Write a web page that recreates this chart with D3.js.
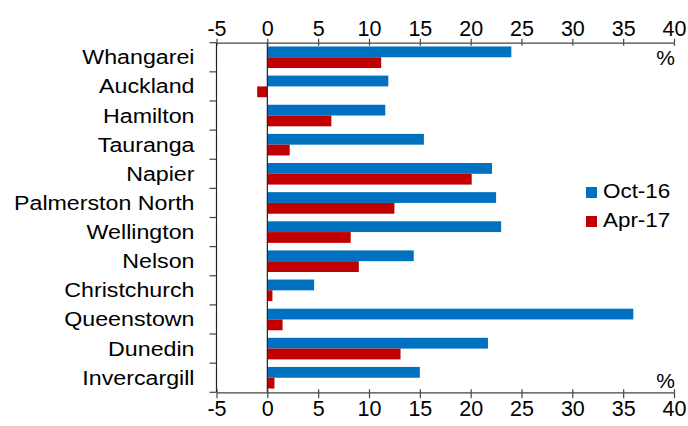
<!DOCTYPE html>
<html>
<head>
<meta charset="utf-8">
<script src="https://cdn.jsdelivr.net/npm/d3@7"></script>
<style>
  html, body { margin: 0; padding: 0; background: #fff; }
  svg { display: block; font-family: "Liberation Sans", Arial, sans-serif; }
</style>
</head>
<body>
<svg id="chart" width="688" height="426"></svg>
<script>
// House price growth by city, annual % change
const cities = ["Whangarei", "Auckland", "Hamilton", "Tauranga", "Napier", "Palmerston North",
  "Wellington", "Nelson", "Christchurch", "Queenstown", "Dunedin", "Invercargill"];
const seriesNames = ["Oct-16", "Apr-17"];
const oct16 = [24.0, 11.9, 11.6, 15.4, 22.1, 22.5, 23.0, 14.4, 4.6, 36.0, 21.7, 15.0];
const apr17 = [11.2, -1.0, 6.3, 2.2, 20.1, 12.5, 8.2, 9.0, 0.5, 1.5, 13.1, 0.7];
const xTicks = [-5, 0, 5, 10, 15, 20, 25, 30, 35, 40];
const unitLabel = "%";

const colors = { "Oct-16": "#0070C0", "Apr-17": "#C00000" };

const rows = cities.map((c, i) => ({ city: c, "Oct-16": oct16[i], "Apr-17": apr17[i] }));

const svg = d3.select("#chart");
const plotL = 216.5, plotR = 674, plotT = 42.7, plotB = 392.3;

const x = d3.scaleLinear().domain([-5, 40]).range([plotL, plotR]);
const y = d3.scaleBand().domain(cities).range([plotT, plotB]).padding(0);
const ySub = d3.scaleBand().domain(seriesNames).range([0, y.bandwidth()])
  .paddingInner(0).paddingOuter(0.35);

// bars
const groups = svg.append("g").selectAll("g").data(rows).join("g")
  .attr("transform", d => `translate(0,${y(d.city)})`);
groups.selectAll("rect")
  .data(d => seriesNames.map(s => ({ s, v: d[s] })))
  .join("rect")
  .attr("x", d => x(Math.min(0, d.v)))
  .attr("width", d => Math.abs(x(d.v) - x(0)))
  .attr("y", d => ySub(d.s))
  .attr("height", ySub.bandwidth())
  .attr("fill", d => colors[d.s]);

// zero line
svg.append("line")
  .attr("x1", x(0)).attr("x2", x(0)).attr("y1", plotT).attr("y2", plotB)
  .attr("stroke", "#222").attr("stroke-width", 1.2);

// top and bottom value axes (plain hyphen for negatives)
const fmt = d => String(d);
function styleAxis(g) {
  g.select(".domain").attr("stroke", "#444").attr("stroke-width", 1.2);
  g.selectAll(".tick line").attr("stroke", "#444").attr("stroke-width", 1.2);
  g.selectAll(".tick text").attr("font-size", 21.5).attr("fill", "#000")
    .attr("font-family", "'Liberation Sans', Arial, sans-serif");
}
const topAxis = svg.append("g").attr("transform", `translate(0,${plotT})`)
  .call(d3.axisTop(x).tickValues(xTicks).tickFormat(fmt).tickSize(4).tickSizeOuter(0).tickPadding(3));
topAxis.selectAll(".tick").append("line").attr("y2", 3).attr("stroke", "#444");
styleAxis(topAxis);

const bottomAxis = svg.append("g").attr("transform", `translate(0,${plotB})`)
  .call(d3.axisBottom(x).tickValues(xTicks).tickFormat(fmt).tickSize(6).tickSizeOuter(0).tickPadding(2));
bottomAxis.selectAll(".tick").append("line").attr("y2", -3).attr("stroke", "#444");
styleAxis(bottomAxis);

// category axis: vertical line with ticks at band boundaries
svg.append("line")
  .attr("x1", plotL).attr("x2", plotL).attr("y1", plotT).attr("y2", plotB)
  .attr("stroke", "#222").attr("stroke-width", 1.2);
const bounds = cities.map(c => y(c)).concat([plotB]);
svg.append("g").selectAll("line").data(bounds).join("line")
  .attr("x1", plotL - 7).attr("x2", plotL).attr("y1", d => d).attr("y2", d => d)
  .attr("stroke", "#444").attr("stroke-width", 1.2);

// category labels (wide letterforms)
svg.append("g").selectAll("text").data(cities).join("text")
  .attr("transform", d => `translate(194.5,${y(d) + y.bandwidth() / 2 + 7}) scale(1.19,1)`)
  .attr("text-anchor", "end")
  .attr("font-size", 19.5)
  .attr("fill", "#000")
  .text(d => d);

// unit labels
svg.append("text").attr("x", 675).attr("y", 65).attr("text-anchor", "end")
  .attr("font-size", 21).text(unitLabel);
svg.append("text").attr("x", 675).attr("y", 388).attr("text-anchor", "end")
  .attr("font-size", 21).text(unitLabel);

// legend
const legend = svg.append("g").attr("transform", "translate(586,187)");
seriesNames.forEach((s, i) => {
  const g = legend.append("g").attr("transform", `translate(0,${i * 29})`);
  g.append("rect").attr("width", 11).attr("height", 11).attr("fill", colors[s]);
  g.append("text").attr("transform", "translate(17,11) scale(1.15,1)")
    .attr("font-size", 19.5).attr("fill", "#000").text(s);
});
</script>
</body>
</html>
